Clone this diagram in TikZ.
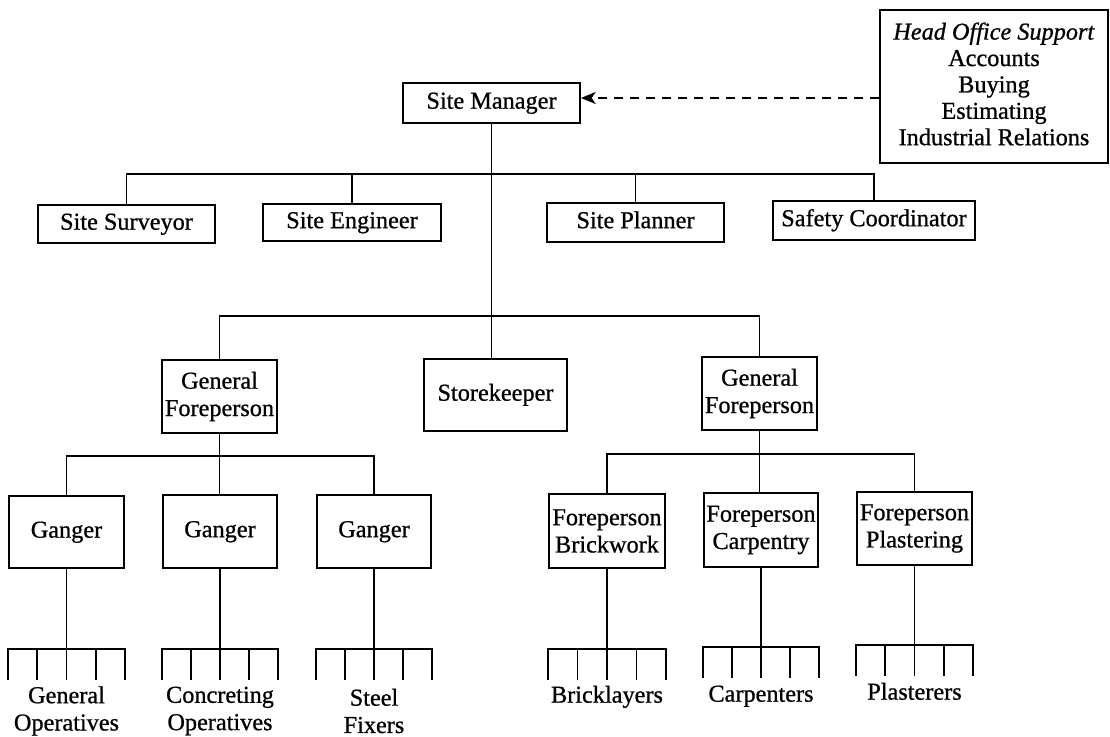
\documentclass[tikz,border=0pt]{standalone}
\usepackage{fontspec}
\setmainfont{Liberation Serif}[FakeBold=0.8]
\usetikzlibrary{arrows.meta,calc}

% A gang of operatives: a drop from the box, a bar as wide as the box and five ticks
\newcommand\crewcomb[2]{%
  \draw[link] (#1.south) -- (#1.south |- 0,#2);
  \draw[link] (#1.south west |- 0,#2+31) -- (#1.south west |- 0,#2)
              -- (#1.south east |- 0,#2) -- (#1.south east |- 0,#2+31);
  \foreach \tk in {0.25,0.5,0.75}{%
    \coordinate (#1tick) at ($(#1.south west)!\tk!(#1.south east)$);
    \draw[link] (#1tick |- 0,#2) -- (#1tick |- 0,#2+31);
  }%
}

\begin{document}
\begin{tikzpicture}[x=0.75pt, y=-0.75pt, line width=1.45pt,
  every node/.style={font=\fontsize{18.2}{20.5}\selectfont},
  box/.style={draw, line width=1.5pt, align=center, inner xsep=1pt, inner ysep=1pt},
  one/.style={text height=12.4pt, text depth=3.9pt},
  wh/.style 2 args={minimum width=#1*0.75pt, minimum height=#2*0.75pt},
  crew/.style={align=center, inner sep=0pt},
  link/.style={line width=1.45pt}]
\useasboundingbox (0,0) rectangle (1110,737);

% Site management
\node[box, one, wh={177}{40}] (sm) at (491.5,103) {Site Manager};
\node[box, wh={228}{153}, font=\fontsize{18.2}{19.8}\selectfont] (ho) at (994,86.5) {};
\node[align=center, inner sep=0pt, font=\fontsize{18.2}{19.8}\selectfont] (hotext) at (994,84)
  {\textit{Head Office Support}\\Accounts\\Buying\\Estimating\\Industrial Relations};

\node[box, one, wh={177}{38}] (ss) at (126.5,224)   {Site Surveyor};
\node[box, one, wh={178}{37}] (se) at (352,222.5)   {Site Engineer};
\node[box, one, wh={177}{39}] (sp) at (635.5,222.5) {Site Planner};
\node[box, one, wh={202}{39}] (sc) at (874,220.5)   {Safety Coordinator};

\node[box, wh={115}{73}] (gf1) at (219.5,396.5) {General\\Foreperson};
\node[box, one, wh={143}{72}] (sk)  at (495.5,395) {Storekeeper};
\node[box, wh={115}{73}] (gf2) at (759.5,393.5) {General\\Foreperson};

% Gangers and trade forepersons
\node[box, one, wh={115}{72}] (g1) at (66.5,532)  {Ganger};
\node[box, one, wh={114}{73}] (g2) at (220,531.5) {Ganger};
\node[box, one, wh={114}{73}] (g3) at (374,531.5) {Ganger};

\node[box, wh={116}{74}] (fb) at (607,531)   {Foreperson\\Brickwork};
\node[box, wh={114}{74}] (fc) at (761,530)   {Foreperson\\Carpentry};
\node[box, wh={115}{73}] (fp) at (914.5,528.5) {Foreperson\\Plastering};

% Support link
\draw[link, dash pattern=on 7pt off 5pt, -{Stealth[length=11pt, width=9pt, inset=3pt]}]
  (ho.west |- 0,98) -- (sm.east |- 0,98);

% Lines of authority
\draw[link] (sm.south) -- (sm.south |- sk.north);
\draw[link] (ss.north) -- (ss.north |- 0,174) -- (sc.north |- 0,174) -- (sc.north);
\draw[link] (se.north) -- (se.north |- 0,174);
\draw[link] (sp.north) -- (sp.north |- 0,174);

\draw[link] (gf1.north) -- (gf1.north |- 0,316) -- (gf2.north |- 0,316) -- (gf2.north);

\draw[link] (gf1.south) -- (gf1.south |- g2.north);
\draw[link] (g1.north) -- (g1.north |- 0,456) -- (g3.north |- 0,456) -- (g3.north);

\draw[link] (gf2.south) -- (gf2.south |- fc.north);
\draw[link] (fb.north) -- (fb.north |- 0,454) -- (fp.north |- 0,454) -- (fp.north);

% Operatives
\crewcomb{g1}{649}
\crewcomb{g2}{649}
\crewcomb{g3}{649}
\crewcomb{fb}{649}
\crewcomb{fc}{647}
\crewcomb{fp}{645}

\node[crew] (op1) at (g1.south |- 0,711) {General\\Operatives};
\node[crew] (op2) at (g2.south |- 0,711) {Concreting\\Operatives};
\node[crew] (op3) at (g3.south |- 0,711) {Steel\\Fixers};
\node[crew, one] (op4) at (fb.south |- 0,697) {Bricklayers};
\node[crew, one] (op5) at (fc.south |- 0,696) {Carpenters};
\node[crew, one] (op6) at (fp.south |- 0,694) {Plasterers};
\end{tikzpicture}
\end{document}
